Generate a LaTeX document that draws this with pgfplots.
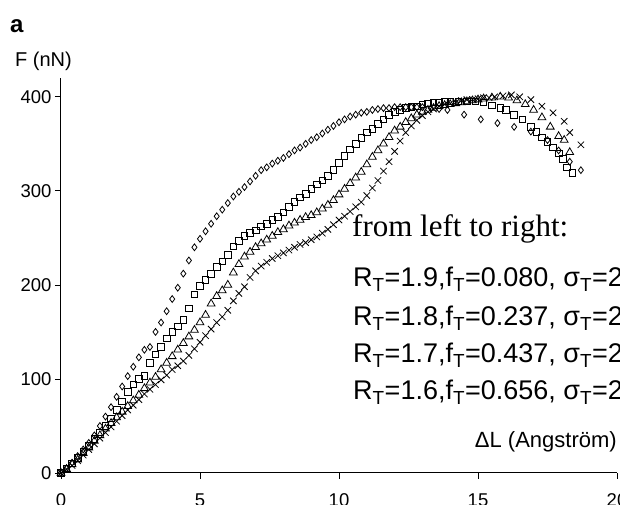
\documentclass[border=0pt]{standalone}
\usepackage{fontspec}
\setmainfont{Liberation Sans}
\newfontfamily\timesfont{Liberation Serif}
\usepackage{pgfplots}
\usepackage{pgfplotstable}
\pgfplotsset{compat=1.18}

% R_T=1.9 (diamonds)
\pgfplotstableread{
x F
0 0
0.2 5
0.4 11
0.6 18
0.8 25
1.0 32
1.2 40
1.4 50
1.6 60
1.8 70
2.0 81
2.2 92
2.4 103
2.6 113
2.8 123
3.0 131
3.2 134
3.4 150
3.6 160
3.8 172
4.0 185
4.2 197
4.4 212
4.6 226
4.8 240
5.0 249
5.2 257
5.4 265
5.6 273
5.8 280
6.0 287
6.2 294
6.4 299
6.6 304
6.8 310
7.0 316
7.2 322
7.4 325
7.6 329
7.8 332
8.0 335
8.2 339
8.4 343
8.6 346
8.8 350
9.0 354
9.2 357
9.4 361
9.6 365
9.8 369
10.0 373
10.2 376
10.4 379
10.6 381
10.8 383
11.0 384
11.2 386
11.4 387
11.6 388
11.8 388
12.0 389
12.2 389
12.4 389
12.6 389
12.8 389
13.0 389
13.3 388
13.6 387
13.9 386
14.5 381
15.1 376
15.7 372
16.3 368
16.9 363
17.5 354
17.9 343
18.3 331
18.7 322
}\seriesA

% R_T=1.8 (squares)
\pgfplotstableread{
x F
0 0
0.2 5
0.4 10
0.6 16
0.8 23
1.0 29
1.2 36
1.4 43
1.6 50
1.8 58
2.0 67
2.2 76
2.4 86
2.6 94
2.8 100
3.0 103
3.2 117
3.4 126
3.6 134
3.8 143
4.0 150
4.2 156
4.4 163
4.6 175
4.8 190
5.0 199
5.2 205
5.4 212
5.6 219
5.8 225
6.0 232
6.2 241
6.4 247
6.6 252
6.8 255
7.0 258
7.2 262
7.4 265
7.6 269
7.8 272
8.0 277
8.2 283
8.4 288
8.6 293
8.8 297
9.0 302
9.2 307
9.4 311
9.6 316
9.8 322
10.0 330
10.2 337
10.4 344
10.6 350
10.8 356
11.0 362
11.2 366
11.4 371
11.6 376
11.8 381
12.0 384
12.2 386
12.4 388
12.6 389
12.8 390
13.0 392
13.2 393
13.4 394
13.6 394
13.8 395
14.0 395
14.3 395
14.6 395
14.9 395
15.2 394
15.5 391
15.8 388
16.0 386
16.3 381
16.6 376
16.9 368
17.1 363
17.3 357
17.5 352
17.7 346
17.9 340
18.05 334
18.2 325
18.4 319
}\seriesB

% R_T=1.7 (triangles)
\pgfplotstableread{
x F
0 0
0.2 4
0.4 9
0.6 14
0.8 21
1.0 27
1.2 34
1.4 40
1.6 47
1.8 53
2.0 59
2.2 65
2.4 71
2.6 77
2.8 83
3.0 90
3.2 96
3.4 102
3.6 110
3.8 117
4.0 124
4.2 131
4.4 138
4.6 145
4.8 152
5.0 160
5.2 168
5.4 180
5.6 188
5.8 194
6.0 200
6.2 213
6.4 222
6.6 230
6.8 235
7.0 240
7.2 244
7.4 248
7.6 252
7.8 256
8.0 259
8.2 263
8.4 266
8.6 269
8.8 272
9.0 274
9.2 277
9.4 281
9.6 285
9.8 290
10.0 296
10.2 302
10.4 308
10.6 314
10.8 320
11.0 328
11.2 336
11.4 343
11.6 350
11.8 357
12.0 364
12.2 368
12.4 373
12.6 377
12.8 381
13.0 384
13.2 386
13.4 388
13.6 390
13.8 391
14.0 392
14.2 393
14.4 394
14.6 395
14.8 396
15.0 397
15.2 398
15.5 399
15.8 400
16.1 399
16.4 396
16.7 392
17.0 386
17.3 378
17.6 368
17.9 358
18.1 354
18.3 341
}\seriesC

% R_T=1.6 (crosses)
\pgfplotstableread{
x F
0 0
0.2 4
0.4 8
0.6 13
0.8 19
1.0 25
1.2 31
1.4 37
1.6 43
1.8 49
2.0 55
2.2 61
2.4 67
2.6 72
2.8 78
3.0 84
3.2 89
3.4 94
3.6 99
3.8 104
4.0 110
4.2 114
4.4 119
4.6 125
4.8 132
5.0 139
5.2 146
5.4 153
5.6 160
5.8 166
6.0 173
6.2 183
6.4 191
6.6 198
6.8 208
7.0 215
7.2 220
7.4 224
7.6 228
7.8 231
8.0 234
8.2 237
8.4 240
8.6 243
8.8 245
9.0 248
9.2 251
9.4 255
9.6 259
9.8 264
10.0 269
10.2 273
10.4 278
10.6 283
10.8 288
11.0 295
11.2 303
11.4 311
11.6 321
11.8 331
12.0 342
12.2 353
12.4 362
12.6 369
12.8 375
13.0 380
13.2 384
13.4 387
13.6 390
13.8 392
14.0 393
14.2 394
14.4 396
14.6 397
14.8 397
15.0 398
15.2 399
15.4 399
15.6 400
15.9 401
16.2 402
16.5 400
16.9 397
17.3 390
17.7 383
18.1 374
18.3 362
18.7 349
}\seriesD

\begin{document}
\begin{tikzpicture}
\begin{axis}[
    at={(0,0)}, anchor=south west,
    scale only axis,
    width=556pt, height=395pt,
    xmin=0, xmax=20, ymin=0, ymax=420,
    xtick={0,5,...,20}, ytick={0,100,...,400},
    axis x line=bottom, axis y line=left,
    axis line style={-, line width=1pt},
    tick align=outside, major tick length=6pt,
    tick style={line width=0.8pt, black},
    x tick label style={yshift=-11pt},
    ticklabel style={font=\fontsize{18.5}{22}\selectfont},
    /pgf/number format/assume math mode=true,
    clip=false,
]
\addplot[only marks, mark=diamond, mark size=3.4pt, mark options={line width=0.8pt}] table {\seriesA};
\addplot[only marks, mark=square, mark size=3.3pt, mark options={line width=0.8pt}] table {\seriesB};
\addplot[only marks, mark=triangle, mark size=4.5pt, mark options={line width=0.8pt}] table {\seriesC};
\addplot[only marks, mark=x, mark size=4.5pt, mark options={line width=0.8pt}] table {\seriesD};
\end{axis}
\node[anchor=base west, inner sep=0pt, font=\fontsize{24}{28}\selectfont\bfseries] at (-51pt,440pt) {a};
\node[anchor=base west, inner sep=0pt, font=\fontsize{20}{24}\selectfont] at (-46pt,406pt) {F (nN)};
\node[anchor=base east, inner sep=0pt, font=\fontsize{22}{26}\selectfont] at (556pt,25pt) {ΔL (Angström)};
\node[anchor=base west, inner sep=0pt, font=\fontsize{31}{36}\selectfont\timesfont] at (291pt,236pt) {from left to right:};
\node[anchor=base west, inner sep=0pt, font=\fontsize{27}{32}\selectfont] at (292pt,186pt) {R\textsubscript{T}=1.9,f\textsubscript{T}=0.080, σ\textsubscript{T}=2};
\node[anchor=base west, inner sep=0pt, font=\fontsize{27}{32}\selectfont] at (292pt,147pt) {R\textsubscript{T}=1.8,f\textsubscript{T}=0.237, σ\textsubscript{T}=2};
\node[anchor=base west, inner sep=0pt, font=\fontsize{27}{32}\selectfont] at (292pt,110pt) {R\textsubscript{T}=1.7,f\textsubscript{T}=0.437, σ\textsubscript{T}=2};
\node[anchor=base west, inner sep=0pt, font=\fontsize{27}{32}\selectfont] at (292pt,73pt) {R\textsubscript{T}=1.6,f\textsubscript{T}=0.656, σ\textsubscript{T}=2};
\pgfresetboundingbox
\useasboundingbox (-61pt,-32pt) rectangle (559pt,473pt);
\end{tikzpicture}
\end{document}
